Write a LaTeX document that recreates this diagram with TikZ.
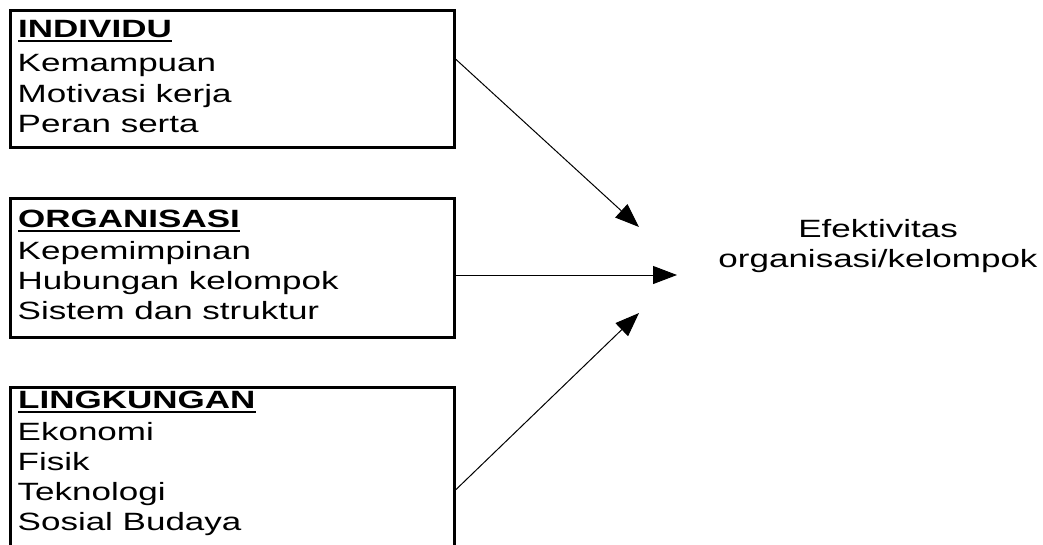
\documentclass[tikz,border=0pt]{standalone}
\usepackage{fontspec}
\newfontfamily\wfont[FakeStretch=1.4]{Liberation Sans}
\usetikzlibrary{arrows.meta}
\begin{document}
\begin{tikzpicture}[x=1pt,y=-1pt,
  box/.style={draw,line width=3pt,minimum width=444pt,inner sep=0pt},
  txt/.style={font=\wfont\fontsize{25}{30}\selectfont,inner sep=0pt,anchor=base west},
  head/.style={txt,font=\wfont\bfseries\fontsize{25}{30}\selectfont},
  uline/.style={line width=2pt},
  arr/.style={line width=1pt,-{Triangle[length=24pt,width=18pt]}}]
\useasboundingbox (0,0) rectangle (1043,544);
\clip (0,0) rectangle (1043,544);
% boxes
\node[box,minimum height=137pt] (b1) at (232,78.5) {};
\node[box,minimum height=139pt] (b2) at (232,267.5) {};
\node[box,minimum height=172pt] (b3) at (232,473) {};
% box 1 text
\node[head] (h1) at (18,37) {INDIVIDU};
\node[txt] (i1) at (17.5,71) {Kemampuan};
\node[txt] (i2) at (17.5,102) {Motivasi kerja};
\node[txt] (i3) at (17.5,132) {Peran serta};
% box 2 text
\node[head] (h2) at (18,227) {ORGANISASI};
\node[txt] (o1) at (17.5,259) {Kepemimpinan};
\node[txt] (o2) at (17.5,289) {Hubungan kelompok};
\node[txt] (o3) at (17.5,319) {Sistem dan struktur};
% box 3 text
\node[head] (h3) at (18,408) {LINGKUNGAN};
\node[txt] (l1) at (17.5,440) {Ekonomi};
\node[txt] (l2) at (17.5,470) {Fisik};
\node[txt] (l3) at (17.5,500) {Teknologi};
\node[txt] (l4) at (17.5,530) {Sosial Budaya};
% underlines
\foreach \h in {h1,h2,h3}
  \draw[uline] ([yshift=-3.5pt]\h.base west) -- ([yshift=-3.5pt]\h.base east);
% target
\node[font=\wfont\fontsize{25}{30}\selectfont,align=center,inner sep=0pt,anchor=base] (eff) at (878,267) {Efektivitas\\organisasi/kelompok};
\coordinate (tA) at (639,227);
\coordinate (tB) at (677,275);
\coordinate (tC) at (639,313);
% arrows
\draw[arr] ([yshift=19.5pt]b1.east) -- (tA);
\draw[arr] ([yshift=-7.5pt]b2.east) -- (tB);
\draw[arr] ([yshift=-17pt]b3.east) -- (tC);
\end{tikzpicture}
\end{document}
